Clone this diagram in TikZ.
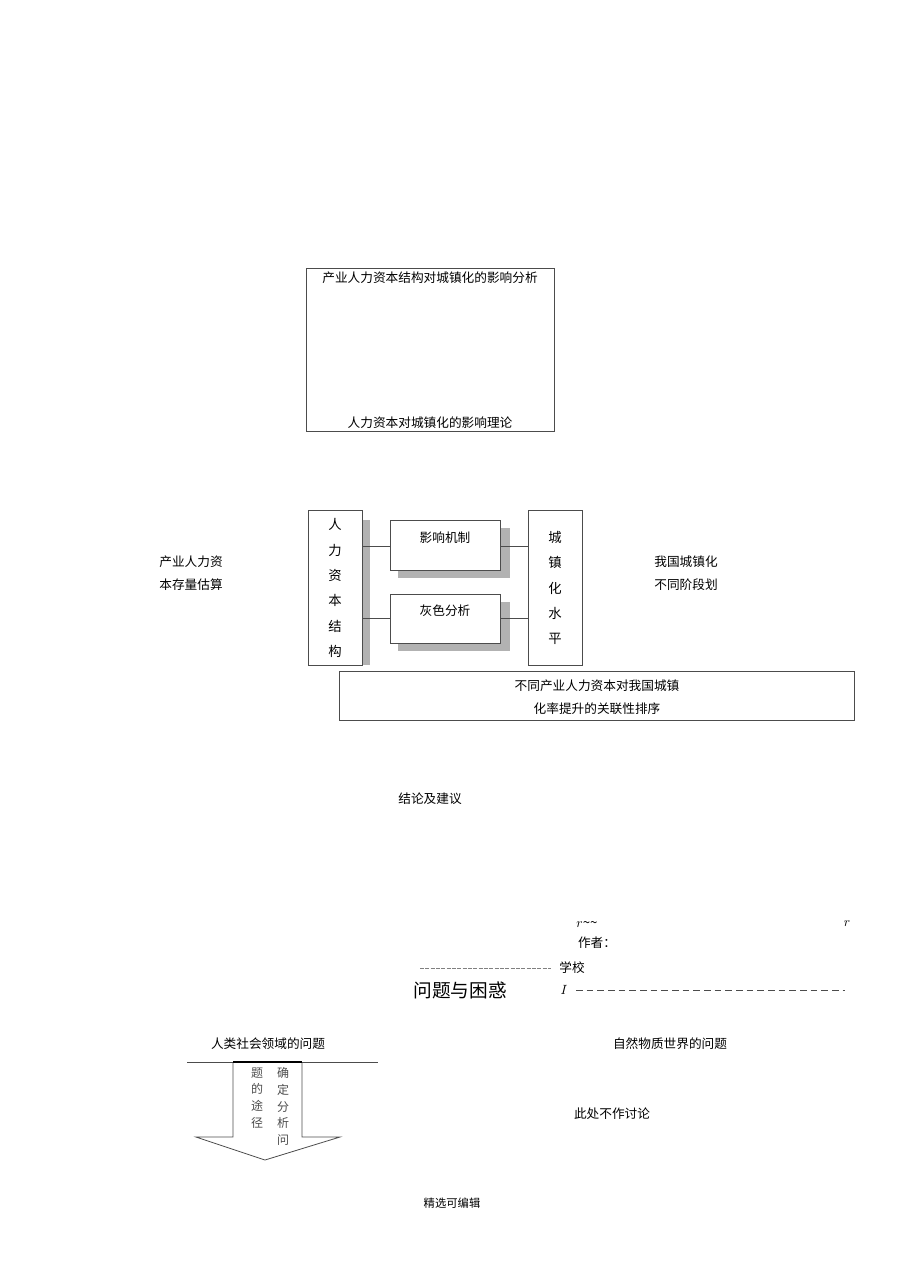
\documentclass[tikz,border=0pt]{standalone}
\usepackage{fontspec}
\setmainfont{Noto Sans CJK SC}
\usetikzlibrary{positioning}
\tikzset{
  box/.style={draw=black!70, fill=white, line width=0.6pt},
  shade/.style={fill=black!30, draw=none},
  txt/.style={font=\fontsize{9.5}{11}\selectfont, inner sep=1pt},
  colt/.style={txt, align=center, font=\fontsize{10}{19}\selectfont}
}
\begin{document}
\begin{tikzpicture}[x=0.75pt,y=-0.75pt]
	\useasboundingbox (0,0) rectangle (920,1285);
	% top box
	\draw [box] (306,268) rectangle (554,431);
	\node [txt] (title) at (430,278) {产业人力资本结构对城镇化的影响分析};
	\node [txt] (theory) at (430,423) {人力资本对城镇化的影响理论};
	
	% shadows
	\fill [shade] (362,520) rectangle (370,665);
	\fill [shade] (398,528) rectangle (510,578);
	\fill [shade] (398,602) rectangle (510,651);
	% main boxes
	\node [box, minimum width=40.5pt, minimum height=116pt, colt] (hc) at (335,588) {人\\力\\资\\本\\结\\构};
	\node [box, minimum width=82.5pt, minimum height=37.5pt, anchor=north, txt] (mech) at (445,520) {};
	\node [txt] at (445,538) {影响机制};
	\node [box, minimum width=82.5pt, minimum height=37pt, anchor=north, txt] (grey) at (445,594) {};
	\node [txt] at (445,611) {灰色分析};
	\node [box, minimum width=40.5pt, minimum height=116pt, colt] (urb) at (555,588) {城\\镇\\化\\水\\平};
	% links
	\draw [black!70] (hc.east |- 0,546) -- (mech.west |- 0,546);
	\draw [black!70] (mech.east |- 0,546) -- (urb.west |- 0,546);
	\draw [black!70] (hc.east |- 0,618) -- (grey.west |- 0,618);
	\draw [black!70] (grey.east |- 0,618) -- (urb.west |- 0,618);
	
	\draw [black!70, line width=0.5pt] (339,671) rectangle (854,720);
	\node [txt, align=center, font=\fontsize{9.5}{17}\selectfont] (rank) at (597,697) {不同产业人力资本对我国城镇\\化率提升的关联性排序};
	\node [txt, align=center, font=\fontsize{9.5}{17}\selectfont] (stock) at (191,573) {产业人力资\\本存量估算};
	\node [txt, align=center, font=\fontsize{9.5}{17}\selectfont] (stage) at (686,573) {我国城镇化\\不同阶段划};
	\node [txt] (concl) at (430,799) {结论及建议};
	
	% lower part
	\node [txt, font=\itshape\fontsize{10}{12}\selectfont] (r1) at (587,924) {$r$\textasciitilde\textasciitilde};
	\node [txt, font=\itshape] (r2) at (847,924) {$r$};
	\node [txt] (author) at (597,943) {作者：};
	\draw [black!50, dash pattern=on 3pt off 1pt] (420,968) -- (551,968);
	\node [txt] (school) at (572,968) {学校};
	\node [inner sep=1pt, font=\fontsize{14}{16}\selectfont] (issue) at (460,990) {问题与困惑};
	\node [txt, font=\itshape] (eye) at (564,990) {$I$};
	\draw [black!70, dash pattern=on 5pt off 3pt] (576,990) -- (845,990);
	
	\node [txt] (human) at (268,1044) {人类社会领域的问题};
	\node [txt] (nature) at (670,1044) {自然物质世界的问题};
	\node [txt] (skip) at (612,1114) {此处不作讨论};
	\draw [black!70] (187,1062) -- (378,1062);
	\draw [black!70, line width=0.6pt] (233,1062) -- (233,1137) -- (196,1137) -- (265,1160)
	      -- (340,1137) -- (302,1137) -- (302,1062);
	\draw [line width=1.2pt] (233,1062) -- (302,1062);
	\node [colt, font=\fontsize{9}{12.5}\selectfont, anchor=north, black!70] (way) at (257,1066) {题\\的\\途\\径};
	\node [colt, font=\fontsize{9}{12.5}\selectfont, anchor=north, black!70] (fix) at (283,1066) {确\\定\\分\\析\\问};
	
	\node [txt, font=\fontsize{8.5}{10}\selectfont] (foot) at (452,1203) {精选可编辑};
\end{tikzpicture}
\end{document}
